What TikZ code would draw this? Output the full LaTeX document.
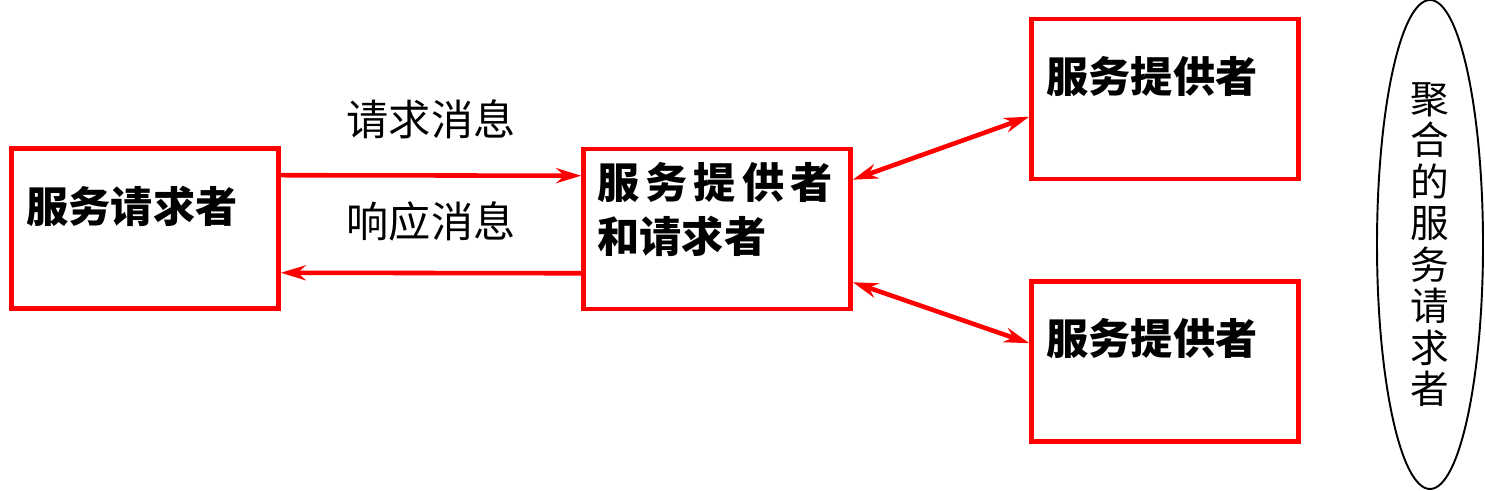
\documentclass[tikz,border=0pt]{standalone}
\usepackage{fontspec}
\setmainfont{Noto Sans CJK SC}
\usetikzlibrary{arrows.meta,shapes.geometric,positioning}

\begin{document}
\begin{tikzpicture}[
		>={Stealth[length=5mm,width=3mm]},
		box/.style={draw=red,line width=2.6pt,minimum width=5.34cm,minimum height=3.2cm,inner sep=0pt},
		link/.style={red,line width=2.6pt},
		boxtext/.style={anchor=west,inner sep=0pt,font=\fontsize{24}{31}\selectfont\bfseries},
		msg/.style={inner sep=0pt,text=black,font=\fontsize{24}{28}\selectfont}
	]
	\useasboundingbox (0,0) rectangle (29.7,9.82);

	% boxes
	\node[box] (req) at (2.9,5.25) {};
	\node[box] (mid) at (14.34,5.24) {};
	\node[box] (prov1) at (23.3,7.84) {};
	\node[box] (prov2) at (23.3,2.59) {};

	% box texts
	\node[boxtext] (reqtxt) at ([xshift=0.34cm,yshift=-1.2cm]req.north west) {服务请求者};
	\node[boxtext,anchor=north west,align=left] (midtxt) at ([xshift=0.32cm,yshift=-0.3cm]mid.north west)
		{服\hspace{0.12cm}务\hspace{0.12cm}提\hspace{0.12cm}供\hspace{0.12cm}者\\和请求者};
	\node[boxtext] (prov1txt) at ([xshift=0.34cm,yshift=-1.2cm]prov1.north west) {服务提供者};
	\node[boxtext] (prov2txt) at ([xshift=0.34cm,yshift=-1.18cm]prov2.north west) {服务提供者};

	% aggregate
	\node[draw,ellipse,line width=1.1pt,minimum width=2.12cm,minimum height=9.78cm,inner sep=0pt,align=center,
		font=\fontsize{22}{23.6}\selectfont] (agg) at (28.6,4.93) {聚\\合\\的\\服\\务\\请\\求\\者};

	% messages
	\draw[link,->] ([yshift=-0.58cm]req.north east) -- node[msg,above=0.68cm] (reqmsg) {请求消息} ([yshift=-0.58cm]mid.north west);
	\draw[link,->] ([yshift=0.76cm]mid.south west) -- node[msg,above=0.6cm] (respmsg) {响应消息} ([yshift=0.76cm]req.south east);

	% providers
	\draw[link,<->] ([yshift=-0.66cm]mid.north east) -- ([yshift=-2.0cm]prov1.north west);
	\draw[link,<->] ([yshift=0.58cm]mid.south east) -- ([yshift=-1.28cm]prov2.north west);
\end{tikzpicture}
\end{document}
